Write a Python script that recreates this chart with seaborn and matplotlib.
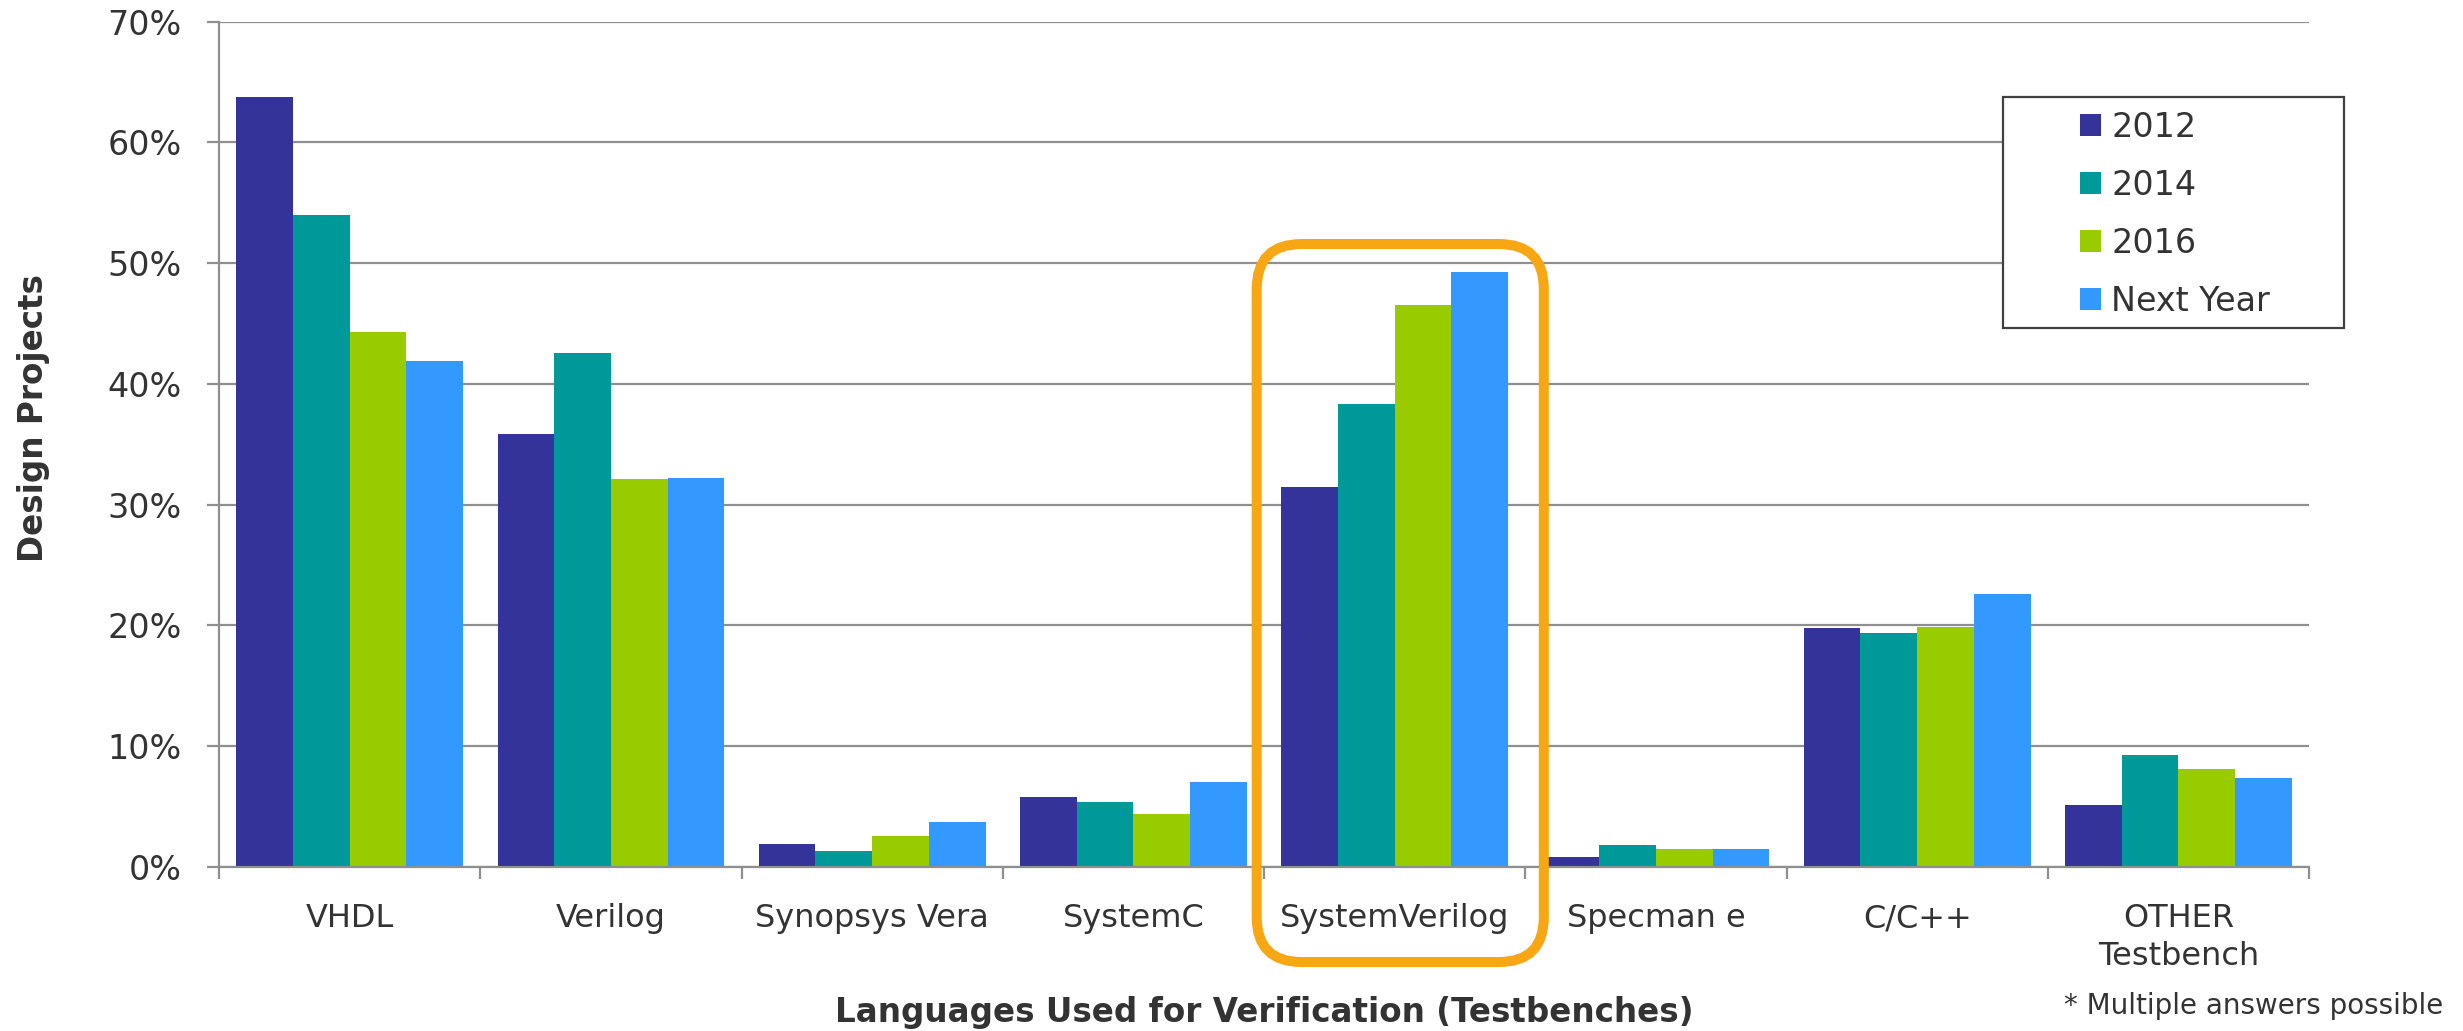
import numpy as np
import pandas as pd
import seaborn as sns
import matplotlib.pyplot as plt
from matplotlib.patches import FancyBboxPatch, Rectangle

# values (% of design projects)
languages = ["VHDL", "Verilog", "Synopsys Vera", "SystemC", "SystemVerilog",
             "Specman e", "C/C++", "OTHER\nTestbench"]
years = ["2012", "2014", "2016", "Next Year"]
share_2012 = [63.8, 35.85, 1.9, 5.8, 31.5, 0.8, 19.8, 5.1]
share_2014 = [54.0, 42.6, 1.3, 5.4, 38.3, 1.8, 19.4, 9.3]
share_2016 = [44.3, 32.1, 2.6, 4.4, 46.5, 1.5, 19.9, 8.1]
share_next = [41.9, 32.2, 3.7, 7.0, 49.3, 1.5, 22.6, 7.4]
colors = ["#333399", "#009999", "#99cc00", "#3399ff"]
yticks = [0, 10, 20, 30, 40, 50, 60, 70]

df = pd.DataFrame({
    "language": languages * 4,
    "year": np.repeat(years, len(languages)),
    "share": share_2012 + share_2014 + share_2016 + share_next,
})

sns.set_style("white")
plt.rcParams["font.family"] = ["DejaVu Sans"]
text_col = "#333333"
grid_col = "#8f8f8f"

fig = plt.figure(figsize=(24.63, 10.31), dpi=100)
ax = fig.add_axes([0.08892, 0.15907, 0.84856, 0.81989])

sns.barplot(data=df, x="language", y="share", hue="year", order=languages,
            hue_order=years, palette=colors, saturation=1, width=0.868,
            errorbar=None, linewidth=0, ax=ax)

ax.set_xlim(-0.5, len(languages) - 0.5)
ax.set_ylim(0, 70)
ax.set_yticks(yticks)
ax.set_yticklabels([f"{v}%" for v in yticks])
ax.set_xticks(np.arange(-0.5, len(languages), 1), minor=True)

ax.set_axisbelow(True)
ax.yaxis.grid(True, color=grid_col, lw=1.6)
ax.xaxis.grid(False)
for s in ["top", "right"]:
    ax.spines[s].set_visible(False)
for s in ["left", "bottom"]:
    ax.spines[s].set_color(grid_col)
    ax.spines[s].set_linewidth(1.6)

ax.tick_params(axis="y", left=True, length=8.8, width=1.6, color=grid_col,
               pad=18, labelsize=24, labelcolor=text_col)
ax.tick_params(axis="x", which="major", length=0, pad=26, labelsize=23,
               labelcolor=text_col)
ax.tick_params(axis="x", which="minor", bottom=True, length=8.8, width=1.6,
               color=grid_col)
for lab in ax.get_xticklabels():
    lab.set_linespacing(1.3)

ax.set_xlabel("Languages Used for Verification (Testbenches)", fontsize=23.5,
              fontweight="bold", color=text_col, va="center")
ax.xaxis.set_label_coords(0.5, -0.1727)
ax.set_ylabel("Design Projects", fontsize=23.5, fontweight="bold", color=text_col)
ax.yaxis.set_label_coords(-0.081, 0.531)

# legend, with a separate wider box like the original
sns.move_legend(ax, "upper left", bbox_to_anchor=(0.8445, 0.8928),
                bbox_transform=fig.transFigure, frameon=False, title=None,
                fontsize=24, handlelength=0.63, handleheight=0.63,
                handletextpad=0.3, labelspacing=0.75, borderpad=0,
                borderaxespad=0, labelcolor=text_col)
ax.get_legend().set_zorder(7)
ax.add_artist(Rectangle((0.8132, 0.6819), 0.1385, 0.2241, transform=fig.transFigure,
                        facecolor="white", edgecolor="#404040", lw=1.6,
                        zorder=6, clip_on=False))

# rounded highlight around SystemVerilog
p0, p1 = ax.transData.transform([(0, 0), (1, 1)])
px_x, px_y = p1 - p0
rnd = 45 / px_x
hl = FancyBboxPatch((3.472, -7.87), 4.571 - 3.472, 51.59 + 7.87,
                    boxstyle=f"round,pad=0,rounding_size={rnd}",
                    mutation_aspect=px_x / px_y, fill=False,
                    edgecolor="#f7a614", lw=7.2, clip_on=False, zorder=8)
ax.add_patch(hl)

fig.text(0.992, 0.024, "* Multiple answers possible", ha="right", va="center",
         fontsize=20, color=text_col)

fig.savefig("out.png", dpi=100)
